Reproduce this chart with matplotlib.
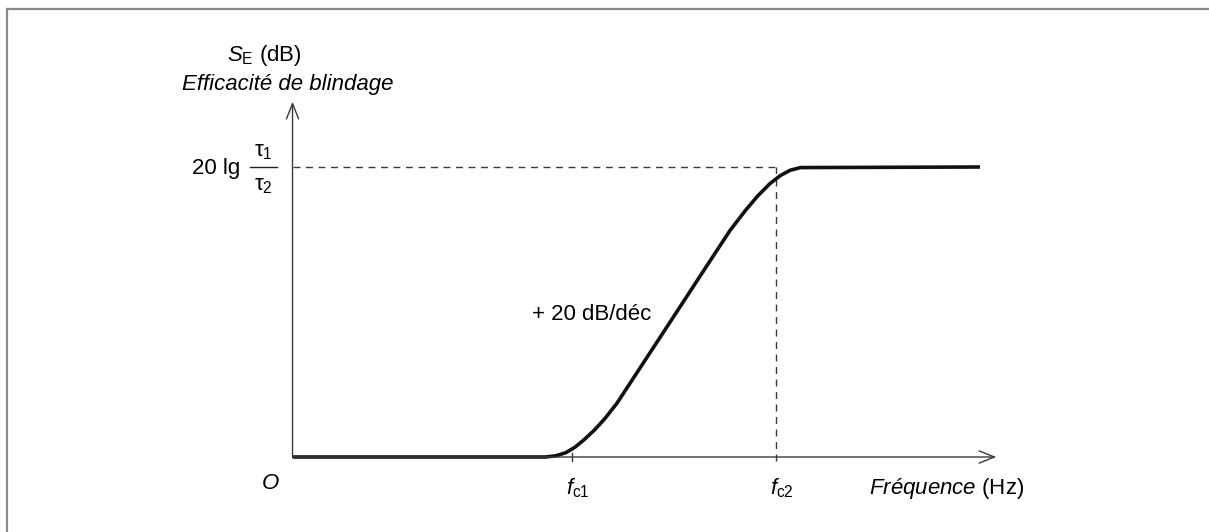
import numpy as np
import matplotlib
matplotlib.use("Agg")
import matplotlib.pyplot as plt
from matplotlib.lines import Line2D

plt.rcParams['font.family'] = ['Liberation Sans', 'DejaVu Sans']
plt.rcParams['mathtext.fontset'] = 'custom'
plt.rcParams['mathtext.rm'] = 'Liberation Sans'
plt.rcParams['mathtext.it'] = 'Liberation Sans:italic'

# ---------------- data (x: decades from fc1, y: dB) ----------------
x_origine = -1.37
x_fc1 = 0.0
x_fc2 = 1.0
niveau_haut = 20.0          # 20 lg tau1/tau2
x_fin_axe = 2.08
y_fin_axe = 24.5

courbe_x = [-1.37, -0.13, -0.08, -0.03, 0.015, 0.06, 0.11, 0.16, 0.22,
            0.54, 0.63, 0.71, 0.775, 0.85, 0.91, 0.97, 1.02, 1.07, 1.12, 2.00]
courbe_y = [0.0, 0.0, 0.08, 0.30, 0.68, 1.20, 1.86, 2.63, 3.70,
            10.58, 12.52, 14.24, 15.63, 17.0, 18.0, 18.85, 19.4, 19.78, 19.96, 20.0]

# ---------------- figure ----------------
fig = plt.figure(figsize=(12.09, 5.32), dpi=100)
ax = fig.add_axes([0, 0, 1, 1])
ax.set_xlim(-572 / 204, (1209 - 572) / 204)
ax.set_ylim((457 - 532) / 14.5, 457 / 14.5)
ax.axis('off')

# cadre gris (haut et gauche)
fig.add_artist(Line2D([0.0058, 1.0], [0.983, 0.983], color='#8a8a8a', lw=1.6))
fig.add_artist(Line2D([0.0058, 0.0058], [0.0, 0.983], color='#8a8a8a', lw=1.6))

gris = '#3a3a3a'
fleche = dict(arrowstyle='->,head_length=0.55,head_width=0.22', color=gris,
              lw=1.0, mutation_scale=20, shrinkA=0, shrinkB=0)
ax.annotate('', xy=(x_fin_axe, 0), xytext=(x_origine, 0), arrowprops=fleche)
ax.annotate('', xy=(x_origine, y_fin_axe), xytext=(x_origine, 0), arrowprops=fleche)

# pointillés
ax.plot([x_origine, x_fc2], [niveau_haut, niveau_haut], color=gris, lw=1.0,
        dashes=(5, 4))
ax.plot([x_fc2, x_fc2], [-0.3, niveau_haut], color=gris, lw=1.0, dashes=(5, 4))
# petite graduation fc1
ax.plot([x_fc1, x_fc1], [-0.25, 0.25], color=gris, lw=1.0)

# courbe
ax.plot(courbe_x, courbe_y, color='#111111', lw=2.6, solid_capstyle='butt',
        solid_joinstyle='round')

# textes
fs = 16
ax.text(-1.69, 27.7, r'$S_\mathrm{E}$ (dB)', fontsize=fs, ha='left', va='center')
ax.text(-1.91, 25.66, 'Efficacité de blindage', fontsize=fs,
        style='italic', ha='left', va='center')
ax.text(-1.625, 19.9, '20 lg', fontsize=fs, ha='right', va='center')
ax.text(-1.512, 21.1, r'$\mathrm{\tau_1}$', fontsize=fs, ha='center', va='center')
ax.text(-1.512, 18.75, r'$\mathrm{\tau_2}$', fontsize=fs, ha='center', va='center')
ax.plot([-1.578, -1.446], [20.0, 20.0], color='#222222', lw=1.0)
ax.text(-0.196, 9.8, '+ 20 dB/déc', fontsize=fs, ha='left', va='center')
ax.text(-1.48, -1.8, 'O', fontsize=fs, style='italic', ha='center', va='center')
ax.text(x_fc1 + 0.03, -2.15, r'$f_\mathrm{c1}$', fontsize=fs, ha='center', va='center')
ax.text(x_fc2 + 0.03, -2.15, r'$f_\mathrm{c2}$', fontsize=fs, ha='center', va='center')
ax.text(1.456, -2.15, r'$\mathit{Fréquence}$ (Hz)', fontsize=fs, ha='left', va='center')

fig.savefig('out.png', dpi=100)
